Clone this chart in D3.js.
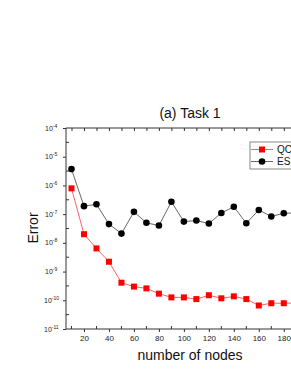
<!DOCTYPE html>
<html>
<head>
<meta charset="utf-8">
<script src="https://cdn.jsdelivr.net/npm/d3@7"></script>
<style>
  body { margin: 0; background: #fff; }
  svg { display: block; font-family: "Liberation Sans", Arial, sans-serif; }
</style>
</head>
<body>
<div class="container"></div>
<script>
// values
var nodes = [10, 20, 30, 40, 50, 60, 70, 80, 90, 100, 110, 120, 130, 140, 150, 160, 170, 180, 190];
var qcError = [7.9e-7, 2.0e-8, 6.4e-9, 2.2e-9, 4.1e-10, 3.0e-10, 2.6e-10, 1.7e-10, 1.26e-10, 1.26e-10,
               1.1e-10, 1.5e-10, 1.17e-10, 1.37e-10, 1.1e-10, 6.6e-11, 7.9e-11, 7.9e-11, 8.0e-11];
var esError = [3.7e-6, 1.9e-7, 2.2e-7, 4.5e-8, 2.1e-8, 1.2e-7, 5.0e-8, 4.0e-8, 2.7e-7, 5.5e-8,
               6.0e-8, 4.7e-8, 1.1e-7, 1.8e-7, 4.8e-8, 1.4e-7, 8.3e-8, 1.07e-7, 1.1e-7];
var yExponents = [-11, -10, -9, -8, -7, -6, -5, -4];
var xTickLabels = [20, 40, 60, 80, 100, 120, 140, 160, 180, 200];
var seriesNames = ["QC", "ES"];

var opts = {width: 291, height: 376, left: 66, right: 315, top: 128, bottom: 329};

var svg = d3.select(".container")
    .append("svg")
    .attr("width", opts.width)
    .attr("height", opts.height);

var x = d3.scaleLinear().domain([5.6, 205]).range([opts.left, opts.right]);
var y = d3.scaleLog().domain([1e-11, 1e-4]).range([opts.bottom, opts.top]);

var axisColor = "#333";

// minor ticks every 10, majors every 20
var minorX = d3.range(10, 210, 10).filter(function(d){ return xTickLabels.indexOf(d) < 0; });
var minorY = yExponents.slice(0, -1).map(function(e){ return Math.pow(10, e + 0.5); });

// bottom axis
var bottomAxis = svg.append("g").attr("transform", "translate(0," + opts.bottom + ")");
bottomAxis.call(d3.axisBottom(x).tickValues(xTickLabels).tickSize(3).tickPadding(3).tickFormat(d3.format("d")));
bottomAxis.selectAll("text").attr("font-size", 8).attr("fill", "#222").attr("font-family", "Liberation Sans, Arial");
bottomAxis.selectAll("line, path").attr("stroke", axisColor);
bottomAxis.select("path").attr("d", "M" + opts.left + ",0H" + opts.right);
bottomAxis.selectAll(".minor").data(minorX).enter().append("line")
    .attr("x1", function(d){ return x(d); }).attr("x2", function(d){ return x(d); })
    .attr("y1", 0).attr("y2", -3).attr("stroke", axisColor);

// top axis, inward ticks only
var topAxis = svg.append("g").attr("transform", "translate(0," + opts.top + ")");
topAxis.call(d3.axisTop(x).tickValues(d3.range(10, 210, 10)).tickSize(-3).tickFormat(""));
topAxis.selectAll("line, path").attr("stroke", axisColor);
topAxis.select("path").attr("d", "M" + opts.left + ",0H" + opts.right);

// left axis
var leftAxis = svg.append("g").attr("transform", "translate(" + opts.left + ",0)");
leftAxis.call(d3.axisLeft(y).tickValues(yExponents.map(function(e){ return Math.pow(10, e); })).tickSize(3).tickFormat(""));
leftAxis.selectAll("line, path").attr("stroke", axisColor);
leftAxis.select("path").attr("d", "M0," + opts.top + "V" + opts.bottom);
leftAxis.selectAll(".minor").data(minorY).enter().append("line")
    .attr("y1", function(d){ return y(d); }).attr("y2", function(d){ return y(d); })
    .attr("x1", 0).attr("x2", 3).attr("stroke", axisColor);

var yLabels = svg.append("g").selectAll("text").data(yExponents).enter().append("text")
    .attr("x", function(d){ return d <= -10 ? 44 : 45; })
    .attr("y", function(d){ return y(Math.pow(10, d)) + 2.5; })
    .attr("font-size", 7)
    .attr("fill", "#222");
yLabels.append("tspan").text("10");
yLabels.append("tspan").attr("dy", -3).attr("font-size", 5).text(function(d){ return "-" + Math.abs(d); });

// lines + markers
var line = function(vals) {
  return d3.line().x(function(d, i){ return x(nodes[i]); }).y(function(d){ return y(d); })(vals);
};

var plot = svg.append("g");

plot.append("path").attr("d", line(qcError)).attr("fill", "none").attr("stroke", "#ff5050").attr("stroke-width", 0.9);
plot.selectAll(".qc").data(qcError).enter().append("rect")
    .attr("class", "qc")
    .attr("x", function(d, i){ return x(nodes[i]) - 3; })
    .attr("y", function(d){ return y(d) - 3; })
    .attr("width", 6).attr("height", 6)
    .attr("fill", "#ff0000");

plot.append("path").attr("d", line(esError)).attr("fill", "none").attr("stroke", "#555").attr("stroke-width", 0.9);
plot.selectAll(".es").data(esError).enter().append("circle")
    .attr("class", "es")
    .attr("cx", function(d, i){ return x(nodes[i]); })
    .attr("cy", function(d){ return y(d); })
    .attr("r", 3.3)
    .attr("fill", "#000");

// legend
var legend = svg.append("g").attr("transform", "translate(250,142)");
legend.append("rect").attr("x", 0).attr("y", 0).attr("width", 60).attr("height", 27)
    .attr("fill", "#fff").attr("stroke", "#666").attr("stroke-width", 0.8);
seriesNames.forEach(function(name, i) {
  var ly = 7.5 + i * 12;
  var g = legend.append("g").attr("transform", "translate(0," + ly + ")");
  g.append("line").attr("x1", 1).attr("x2", 23).attr("y1", 0).attr("y2", 0)
      .attr("stroke", i === 0 ? "#ff5050" : "#555").attr("stroke-width", 0.9);
  if (i === 0) {
    g.append("rect").attr("x", 9).attr("y", -3).attr("width", 6).attr("height", 6).attr("fill", "#ff0000");
  } else {
    g.append("circle").attr("cx", 12).attr("cy", 0).attr("r", 3.3).attr("fill", "#000");
  }
  g.append("text").attr("x", 27).attr("y", 3.6).attr("font-size", 10).attr("fill", "#111").text(name);
});

// titles
svg.append("text").attr("x", 190).attr("y", 118).attr("text-anchor", "middle")
    .attr("font-size", 14).attr("fill", "#111").text("(a) Task 1");
svg.append("text").attr("x", 190).attr("y", 360).attr("text-anchor", "middle")
    .attr("font-size", 14).attr("fill", "#111").text("number of nodes");
svg.append("text").attr("transform", "translate(38,228) rotate(-90)").attr("text-anchor", "middle")
    .attr("font-size", 14).attr("fill", "#111").text("Error");
</script>
</body>
</html>
